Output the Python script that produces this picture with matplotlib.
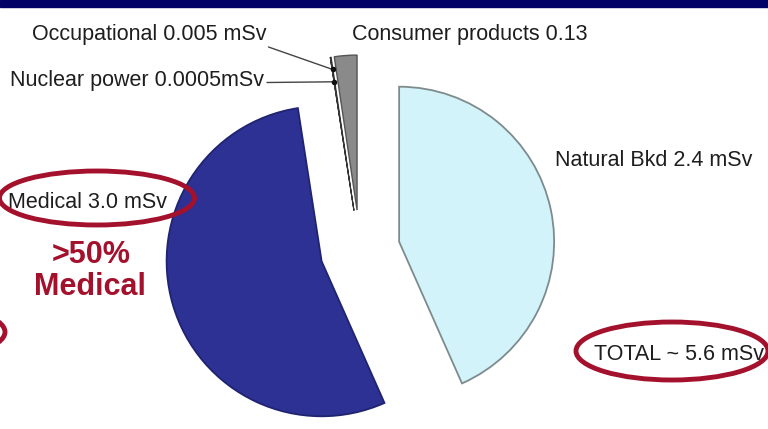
import numpy as np
import matplotlib.pyplot as plt
from matplotlib.patches import Ellipse

# Annual radiation dose by source (mSv)
sources = ["Natural Bkd", "Medical", "Nuclear power", "Occupational", "Consumer products"]
doses = [2.4, 3.0, 0.0005, 0.005, 0.13]
fill_colors = ["#d3f3fb", "#2c3193", "#ffffff", "#ffffff", "#8a8a8a"]
edge_colors = ["#7d8b8d", "#1f2370", "#333333", "#333333", "#555555"]
edge_widths = [1.3, 1.3, 0.7, 0.7, 1.0]

W, H = 768, 429
fig = plt.figure(figsize=(W / 100, H / 100), dpi=100)
ax = fig.add_axes([0, 0, 1, 1])

# radius and explode offsets are in data (pixel) units here
R = 155
wedges, _ = ax.pie(doses, colors=fill_colors, explode=[40] * len(doses),
                   startangle=90, counterclock=False, center=(360, 179), radius=R)
for w, ec, lw in zip(wedges, edge_colors, edge_widths):
    w.set_edgecolor(ec)
    w.set_linewidth(lw)

ax.set_xlim(0, W)
ax.set_ylim(0, H)
ax.set_aspect("equal")
ax.axis("off")

# dark band across the top
ax.axhspan(H - 7, H, color="#000066", zorder=0)

font = "Liberation Sans"
txt = dict(fontsize=15.5, family=font, color="#1e1e1e", ha="left", va="baseline")


def y(img_y):
    return H - img_y


ax.text(352, y(40), "Consumer products 0.13", **txt)
ax.text(555, y(166), "Natural Bkd 2.4 mSv", **txt)
ax.text(8, y(208), "Medical 3.0 mSv", **txt)
ax.text(594, y(360), "TOTAL ~ 5.6 mSv", **txt)


def wedge_point(w, frac):
    # point on the middle of a wedge at a fraction of its radius
    ang = np.deg2rad((w.theta1 + w.theta2) / 2)
    cx, cy = w.center
    return cx + frac * w.r * np.cos(ang), cy + frac * w.r * np.sin(ang)


for name, dose, label_xy, frac in [("Occupational", "0.005 mSv", (32, 40), 0.92),
                                   ("Nuclear power", "0.0005mSv", (10, 86), 0.84)]:
    w = wedges[sources.index(name)]
    tip = wedge_point(w, frac)
    t = ax.text(label_xy[0], y(label_xy[1]), f"{name} {dose}", **txt)
    fig.canvas.draw()
    bb = t.get_window_extent().transformed(ax.transData.inverted())
    if name == "Occupational":
        start = (bb.x1 + 2, bb.y0 - 2)
    else:
        start = (bb.x1 + 3, (bb.y0 + bb.y1) / 2 - 2)
    ax.annotate("", xy=tip, xytext=start,
                arrowprops=dict(arrowstyle="-", color="#444444", lw=1.0,
                                shrinkA=0, shrinkB=0))
    ax.plot(*tip, "o", color="#111111", ms=3, zorder=5)

red = "#a3112c"
bold = dict(fontsize=22, family=font, weight="bold", color=red, ha="center", va="baseline")
ax.text(91, y(263), ">50%", **bold)
ax.text(90, y(295), "Medical", **bold)

for cx, cy, ew, eh in [(97, 198, 195, 54), (672, 351, 192, 58), (-90, 332, 190, 56)]:
    ax.add_patch(Ellipse((cx, y(cy)), ew, eh, fill=False, edgecolor=red, lw=3.5,
                         zorder=6, clip_on=False))

fig.savefig("out.png", dpi=100)
